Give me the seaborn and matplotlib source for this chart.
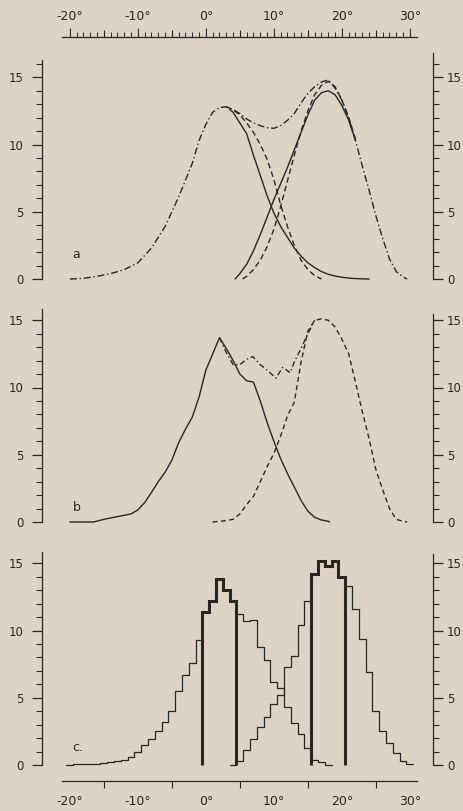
import matplotlib
matplotlib.use("Agg")
import matplotlib.pyplot as plt
import pandas as pd
import seaborn as sns
from matplotlib.ticker import FixedLocator

PAPER = "#ddd3c6"
INK = "#2a2622"

# panel a: fitted curves (degrees vs. count)
A_TOTAL_X = [-20, -18, -16, -14, -12, -10, -8, -6, -4, -2, -1, 0, 1, 2, 3, 4, 5, 6, 7, 8, 9, 10,
             11, 12, 13, 14, 15, 16, 17, 18, 19, 20, 21, 22, 23, 24, 25, 26, 27, 28, 29, 29.6]
A_TOTAL_Y = [0, 0.05, 0.2, 0.4, 0.7, 1.2, 2.3, 3.9, 6.1, 8.6, 10.3, 11.5, 12.4, 12.75, 12.8, 12.6,
             12.3, 11.9, 11.6, 11.4, 11.25, 11.2, 11.4, 11.8, 12.3, 13.1, 13.8, 14.3, 14.65, 14.8,
             14.2, 13.3, 12.0, 10.3, 8.4, 6.6, 4.7, 3.0, 1.5, 0.55, 0.15, 0]
A_LEFT_DASH_X = [3, 4, 5, 6, 7, 8, 9, 10, 11, 12, 13, 14, 15, 16, 17]
A_LEFT_DASH_Y = [12.8, 12.6, 12.2, 11.6, 10.9, 10.0, 8.9, 7.4, 5.5, 3.9, 2.5, 1.4, 0.7, 0.25, 0]
A_RIGHT_DASH_X = [5.4, 6, 7, 8, 9, 10, 11, 12, 13, 14, 15, 16, 17, 18, 19, 20, 21, 22]
A_RIGHT_DASH_Y = [0, 0.2, 0.7, 1.4, 2.4, 3.7, 5.4, 7.3, 9.2, 11.0, 12.5, 13.7, 14.4, 14.7, 14.3,
                  13.3, 12.0, 10.4]
A_LEFT_SOLID_X = [3.5, 4, 5, 6, 7, 8, 9, 10, 11, 12, 13, 14, 15, 16, 17, 18, 19, 20, 21, 22, 23, 24]
A_LEFT_SOLID_Y = [12.6, 12.4, 11.6, 10.8, 9.2, 7.7, 6.2, 4.9, 3.9, 3.1, 2.3, 1.7, 1.2, 0.85, 0.55,
                  0.35, 0.22, 0.13, 0.07, 0.03, 0.01, 0]
A_RIGHT_SOLID_X = [4.3, 5, 6, 7, 8, 9, 10, 11, 12, 13, 14, 15, 16, 17, 18, 19, 20, 21, 22]
A_RIGHT_SOLID_Y = [0, 0.4, 1.1, 2.1, 3.3, 4.6, 5.9, 7.1, 8.3, 9.6, 10.9, 12.2, 13.3, 13.85, 14.0,
                   13.7, 12.9, 11.8, 10.3]

# panel b: observed curves
B_SOLID_X = [-20, -16.5, -15, -14, -13, -12, -11, -10, -9, -8, -7, -6, -5, -4, -3, -2, -1, 0, 1, 2,
             3, 4, 5, 6, 7, 8, 9, 10, 11, 12, 13, 14, 15, 16, 17, 18, 18.2]
B_SOLID_Y = [0, 0, 0.2, 0.3, 0.4, 0.5, 0.6, 0.9, 1.45, 2.2, 3.0, 3.7, 4.6, 5.9, 6.9, 7.8, 9.3, 11.3,
             12.5, 13.7, 12.9, 12.0, 11.0, 10.5, 10.4, 9.0, 7.4, 6.0, 4.7, 3.6, 2.6, 1.6, 0.8, 0.35,
             0.15, 0.05, 0]
B_DASH_X = [1, 2, 3, 4, 5, 6, 7, 8, 9, 10, 11, 12, 13, 14, 15, 16, 17, 18, 19, 20, 21, 22, 23, 24,
            25, 26, 27, 28, 29, 29.6]
B_DASH_Y = [0, 0.05, 0.1, 0.2, 0.6, 1.3, 1.9, 3.0, 4.1, 5.1, 6.4, 7.9, 8.9, 11.9, 14.2, 15.0, 15.1,
            15.0, 14.5, 13.6, 12.5, 10.4, 8.2, 6.2, 3.9, 2.4, 1.0, 0.2, 0.05, 0]
B_SUM_X = [2, 3, 4, 5, 6, 6.9, 8, 9, 10.3, 11.3, 12.4, 13, 14, 15, 16]
B_SUM_Y = [13.7, 12.6, 11.7, 11.7, 12.1, 12.3, 11.7, 11.3, 10.7, 11.5, 11.1, 11.9, 12.9, 14.0, 15.0]

# panel c: histograms, 1 degree bins centred on whole degrees
C_LEFT_BINS = list(range(-20, 19))
C_LEFT_COUNTS = [0.0, 0.05, 0.05, 0.1, 0.1, 0.15, 0.2, 0.3, 0.4, 0.6, 1.0, 1.5, 1.9, 2.5, 3.2, 4.0,
                 5.5, 6.7, 7.6, 9.3, 11.4, 12.2, 13.8, 13.0, 12.2, 11.2, 10.7, 10.8, 8.8, 7.8, 6.2,
                 5.7, 4.3, 3.1, 2.3, 1.3, 0.4, 0.2, 0.0]
C_RIGHT_BINS = list(range(4, 31))
C_RIGHT_COUNTS = [0.0, 0.3, 1.1, 1.9, 2.8, 3.6, 4.5, 5.2, 7.3, 8.1, 10.4, 12.2, 14.2, 15.2, 14.8,
                  15.2, 14.0, 13.3, 11.6, 9.4, 6.9, 4.0, 2.5, 1.6, 0.9, 0.3, 0.05]
C_SEL_LEFT_BINS = [0, 1, 2, 3, 4]
C_SEL_LEFT_COUNTS = [11.4, 12.2, 13.8, 13.0, 12.2]
C_SEL_RIGHT_BINS = [16, 17, 18, 19, 20]
C_SEL_RIGHT_COUNTS = [14.2, 15.2, 14.8, 15.2, 14.0]

Y_TICKS = [0, 5, 10, 15]
RULER_TICKS = [-20, -10, 0, 10, 20, 30]
RULER_LABELS = ["-20°", "-10°", "0°", "10°", "20°", "30°"]

FIG_W, FIG_H = 464, 811
L, W = 42 / FIG_W, 391 / FIG_W
XLIM = (-24.1, 33.4)
YTOP = 17.0
PX_PER_UNIT = 13.45


def curve(ax, xs, ys, style, lw=1.0):
    df = pd.DataFrame({"deg": xs, "n": ys})
    sns.lineplot(data=df, x="deg", y="n", ax=ax, color=INK, lw=lw, linestyle=style,
                 sort=False, estimator=None, clip_on=False)


def add_panel(fig, zero_px, left_top, right_top, letter, letter_y):
    ax = fig.add_axes([L, (FIG_H - zero_px) / FIG_H, W, YTOP * PX_PER_UNIT / FIG_H])
    rx = ax.twinx()
    for a, side, top in ((ax, "left", left_top), (rx, "right", right_top)):
        a.set_xlim(*XLIM)
        a.set_ylim(0, YTOP)
        a.patch.set_visible(False)
        for s in ("top", "bottom", "left", "right"):
            a.spines[s].set_visible(s == side)
        a.spines[side].set_bounds(0, top)
        a.spines[side].set_color(INK)
        a.spines[side].set_linewidth(0.9)
        a.set_yticks(Y_TICKS, [str(t) for t in Y_TICKS])
        a.yaxis.set_minor_locator(FixedLocator(list(range(0, int(top) + 1))))
        a.tick_params(axis="y", which="major", length=7.5, width=0.9, colors=INK,
                      labelsize=8.5, pad=6 if side == "left" else 2.5)
        a.tick_params(axis="y", which="minor", length=4.2, width=0.8, colors=INK)
        a.set_xticks([])
    ax.text(-19.6, letter_y, letter, fontsize=9, color=INK, va="center", ha="left")
    return ax


def add_ruler(fig, line_px, top):
    h = 0.02
    y0 = (FIG_H - line_px) / FIG_H
    ax = fig.add_axes([L, y0 - h if top else y0, W, h])
    ax.set_xlim(*XLIM)
    ax.patch.set_visible(False)
    side = "top" if top else "bottom"
    for s in ("top", "bottom", "left", "right"):
        ax.spines[s].set_visible(s == side)
    ax.spines[side].set_bounds(-21.2, 31)
    ax.spines[side].set_color(INK)
    ax.spines[side].set_linewidth(0.9)
    ax.set_yticks([])
    if top:
        ax.xaxis.tick_top()
    ax.set_xticks(RULER_TICKS, RULER_LABELS)
    ax.xaxis.set_minor_locator(FixedLocator(list(range(-20, 31))))
    ax.tick_params(axis="x", which="major", length=6.5, width=0.8, colors=INK, labelsize=9, pad=3.5)
    ax.tick_params(axis="x", which="minor", length=3.3, width=0.7, colors=INK)
    sec = ax.secondary_xaxis(side)
    for s in sec.spines.values():
        s.set_visible(False)
    sec.set_xticks([-15, -5, 5, 15, 25], [""] * 5)
    sec.tick_params(axis="x", length=4.8, width=0.8, colors=INK)


sns.set_theme(style="white")
plt.rcParams["font.family"] = ["DejaVu Sans"]

fig = plt.figure(figsize=(FIG_W / 100, FIG_H / 100), dpi=100, facecolor=PAPER)

ax_a = add_panel(fig, 279, 16.3, 16.8, "a", 1.8)
curve(ax_a, A_TOTAL_X, A_TOTAL_Y, (0, (5, 2, 1, 2)))
curve(ax_a, A_LEFT_DASH_X, A_LEFT_DASH_Y, (0, (4, 2.5)))
curve(ax_a, A_RIGHT_DASH_X, A_RIGHT_DASH_Y, (0, (4, 2.5)))
curve(ax_a, A_LEFT_SOLID_X, A_LEFT_SOLID_Y, "-")
curve(ax_a, A_RIGHT_SOLID_X, A_RIGHT_SOLID_Y, "-")

ax_b = add_panel(fig, 522, 15.8, 15.5, "b", 1.1)
curve(ax_b, B_SOLID_X, B_SOLID_Y, "-")
curve(ax_b, B_DASH_X, B_DASH_Y, (0, (3.5, 2.5)))
curve(ax_b, B_SUM_X, B_SUM_Y, (0, (4, 2, 1, 2)))

ax_c = add_panel(fig, 765, 15.8, 15.7, "c.", 1.3)
for bins, counts in ((C_LEFT_BINS, C_LEFT_COUNTS), (C_RIGHT_BINS, C_RIGHT_COUNTS)):
    sns.histplot(x=bins, weights=counts, discrete=True, element="step", fill=False,
                 color=INK, lw=0.9, ax=ax_c, clip_on=False)
for bins, counts in ((C_SEL_LEFT_BINS, C_SEL_LEFT_COUNTS), (C_SEL_RIGHT_BINS, C_SEL_RIGHT_COUNTS)):
    edges = [b - 0.5 for b in bins] + [bins[-1] + 0.5]
    ax_c.stairs(counts, edges, baseline=0, fill=False, color=INK, lw=2.2, zorder=4, clip_on=False)

for ax in (ax_a, ax_b, ax_c):
    ax.set_xlim(*XLIM)
    ax.set_ylim(0, YTOP)
    ax.set_xlabel("")
    ax.set_ylabel("")
    ax.set_xticks([])

add_ruler(fig, 37, top=True)
add_ruler(fig, 781, top=False)

fig.savefig("out.png", dpi=100, facecolor=PAPER)
